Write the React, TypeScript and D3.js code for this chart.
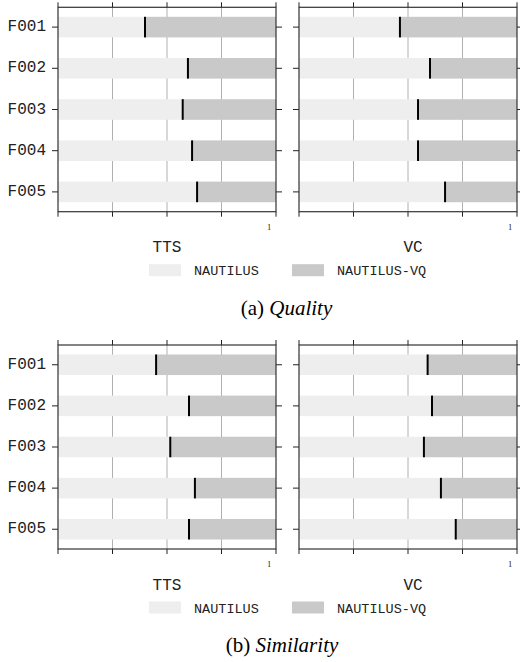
import * as d3 from "d3";

const rows = ["F001", "F002", "F003", "F004", "F005"];
// share of NAUTILUS (light part), the rest is NAUTILUS-VQ
const qualityTTS = [0.399, 0.596, 0.572, 0.615, 0.638];
const qualityVC = [0.463, 0.601, 0.546, 0.546, 0.67];
const similarityTTS = [0.45, 0.601, 0.515, 0.628, 0.601];
const similarityVC = [0.59, 0.61, 0.573, 0.651, 0.719];
const xTicks = [0, 0.25, 0.5, 0.75, 1];
const seriesNames = ["NAUTILUS", "NAUTILUS-VQ"];
const seriesColors = ["#eeeeee", "#c9c9c9"];

const mono = "'Liberation Mono', 'DejaVu Sans Mono', monospace";
const serif = "'Liberation Serif', 'DejaVu Serif', serif";

function Panel({ values, x0, x1, top, bottom, showLabels }) {
  const x = d3.scaleLinear().domain([0, 1]).range([x0, x1]);
  const y = d3
    .scaleBand()
    .domain(rows)
    .range([top - 0.8, bottom + 0.8])
    .paddingInner(0.5)
    .paddingOuter(0.25);
  const mid = (r) => y(r) + y.bandwidth() / 2;

  return (
    <g>
      {/* grid */}
      {xTicks.slice(1, -1).map((t) => (
        <line key={t} x1={x(t)} x2={x(t)} y1={top} y2={bottom} stroke="#b0b0b0" strokeWidth={1} />
      ))}
      {rows.map((r, i) => (
        <g key={r}>
          <rect x={x(0)} y={y(r)} width={x(values[i]) - x(0)} height={y.bandwidth()} fill={seriesColors[0]} />
          <rect x={x(values[i])} y={y(r)} width={x(1) - x(values[i])} height={y.bandwidth()} fill={seriesColors[1]} />
          <line
            x1={x(values[i])}
            x2={x(values[i])}
            y1={y(r)}
            y2={y(r) + y.bandwidth()}
            stroke="#000"
            strokeWidth={2}
          />
          {/* y ticks */}
          <line x1={x0 - 6} x2={x0} y1={mid(r)} y2={mid(r)} stroke="#222" />
          <line x1={x1} x2={x1 + 6} y1={mid(r)} y2={mid(r)} stroke="#222" />
          {showLabels && (
            <text
              x={x0 - 12}
              y={mid(r)}
              textAnchor="end"
              dominantBaseline="central"
              fontFamily={mono}
              fontSize={16}
              fill="#222"
            >
              {r}
            </text>
          )}
        </g>
      ))}
      {/* x ticks top and bottom */}
      {xTicks.map((t) => (
        <g key={t}>
          <line x1={x(t)} x2={x(t)} y1={top - 5} y2={top} stroke="#222" />
          <line x1={x(t)} x2={x(t)} y1={bottom} y2={bottom + 5} stroke="#222" />
        </g>
      ))}
      <text x={x(1) - 7} y={bottom + 18} textAnchor="middle" fontFamily={serif} fontSize={8.5} fill="#222">
        1
      </text>
      <rect x={x0} y={top} width={x1 - x0} height={bottom - top} fill="none" stroke="#333" strokeWidth={1.2} />
    </g>
  );
}

function Figure({ tts, vc, top, bottom, letter, name, capX }) {
  const base = bottom;
  return (
    <g>
      <Panel values={tts} x0={58} x1={276} top={top} bottom={bottom} showLabels={true} />
      <Panel values={vc} x0={299} x1={517} top={top} bottom={bottom} showLabels={false} />
      <text x={167} y={base + 40.5} textAnchor="middle" fontFamily={mono} fontSize={16} fill="#222">
        TTS
      </text>
      <text x={413} y={base + 40.5} textAnchor="middle" fontFamily={mono} fontSize={16} fill="#222">
        VC
      </text>
      {seriesNames.map((s, i) => (
        <g key={s}>
          <rect x={149 + i * 143} y={base + 52.5} width={32} height={12} fill={seriesColors[i]} />
          <text x={194 + i * 143} y={base + 63.5} fontFamily={mono} fontSize={13.5} fill="#222">
            {s}
          </text>
        </g>
      ))}
      <text x={capX} y={base + 103} textAnchor="middle" fontFamily={serif} fontSize={21} fill="#000">
        ({letter}) <tspan fontStyle="italic">{name}</tspan>
      </text>
    </g>
  );
}

export default function App() {
  return (
    <svg width={520} height={662} style={{ position: "absolute", left: 0, top: 0 }}>
      <rect width={520} height={662} fill="#fff" />
      <Figure tts={qualityTTS} vc={qualityVC} top={7.3} bottom={211.7} letter="a" name="Quality" capX={286.5} />
      <Figure tts={similarityTTS} vc={similarityVC} top={345} bottom={549} letter="b" name="Similarity" capX={282} />
    </svg>
  );
}
